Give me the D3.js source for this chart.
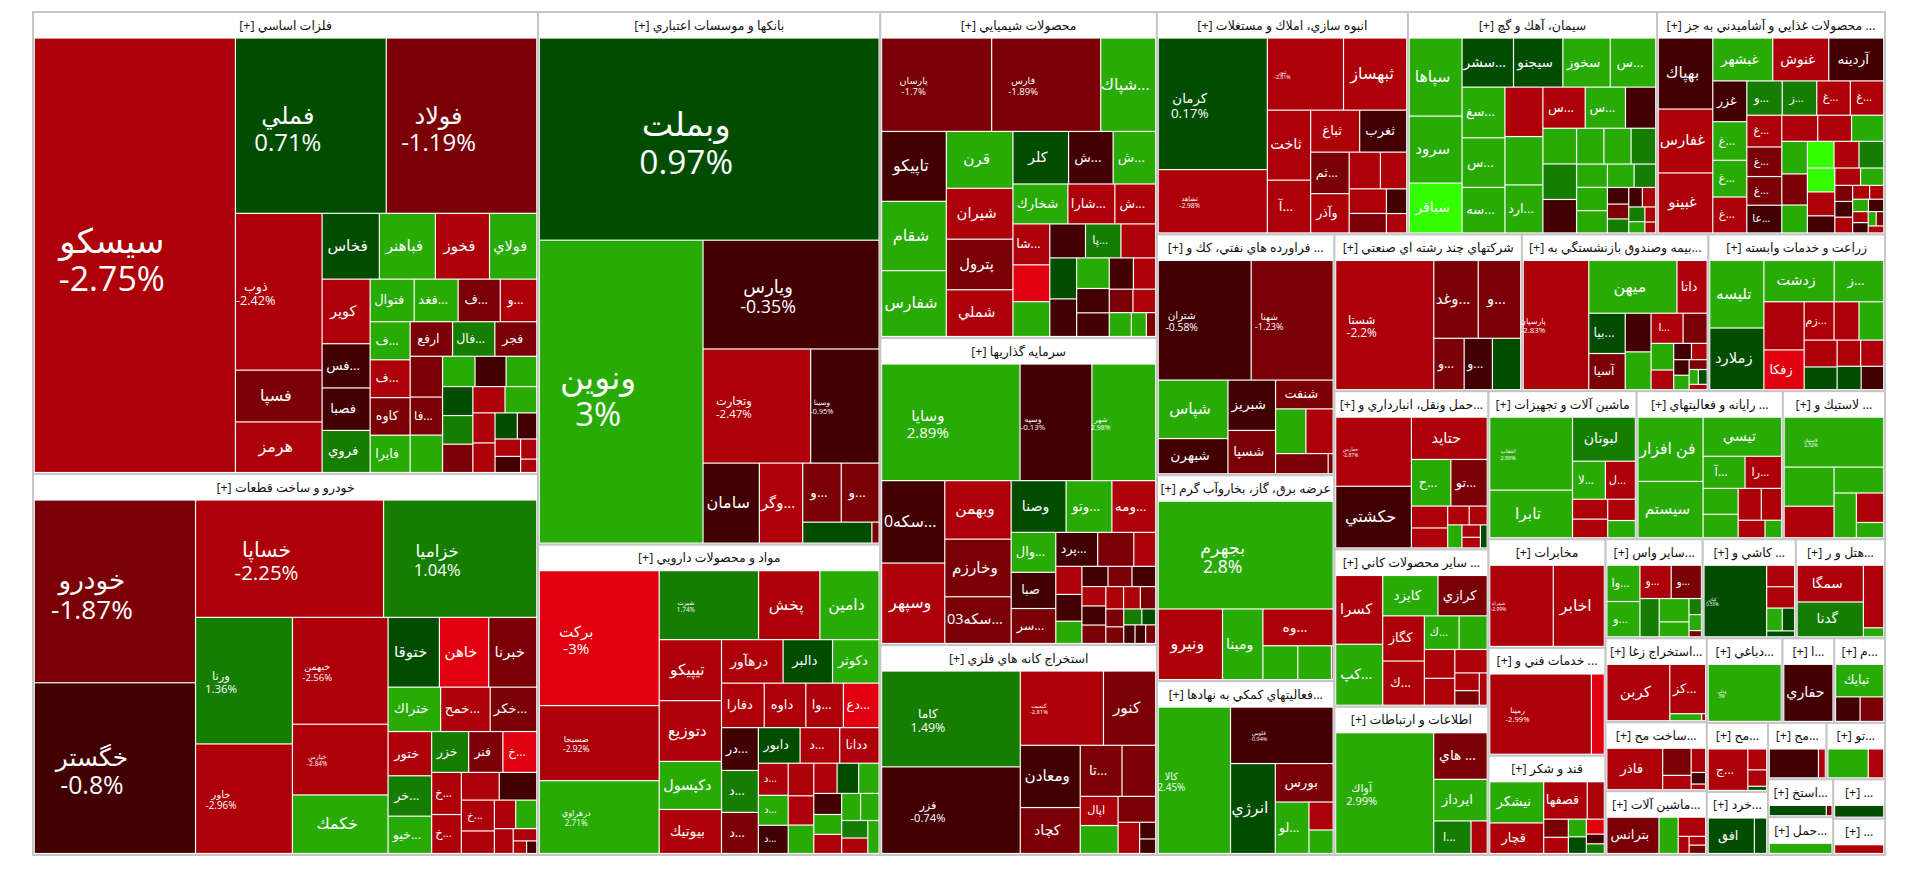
<!DOCTYPE html>
<html><head><meta charset="utf-8">
<script src="https://cdn.jsdelivr.net/npm/d3@7"></script>
<style>html,body{margin:0;background:#fff}svg{display:block}text{font-family:"Open Sans","DejaVu Sans",sans-serif}</style>
</head><body><svg id="map" width="1920" height="873"></svg>
<script>
const sectorNames=["فلزات اساسي [+]","خودرو و ساخت قطعات [+]","بانكها و موسسات اعتباري [+]","مواد و محصولات دارويي [+]","محصولات شيميايي [+]","سرمايه گذاريها [+]","استخراج كانه هاي فلزي [+]","انبوه سازي، املاك و مستغلات [+]","سيمان، آهك و گچ [+]","... محصولات غذايي و آشاميدني به جز [+]","... فراورده هاي نفتي، كك و [+]","عرضه برق، گاز، بخاروآب گرم [+]","...فعاليتهاي كمكي به نهادها [+]","شركتهاي چند رشته اي صنعتي [+]","...بيمه وصندوق بازنشستگي به [+]","زراعت و خدمات وابسته [+]","...حمل ونقل، انبارداري و [+]","... ساير محصولات كاني [+]","اطلاعات و ارتباطات [+]","ماشين آلات و تجهيزات [+]","... رايانه و فعاليتهاي [+]","... لاستيك و [+]","مخابرات [+]","... خدمات فني و [+]","قند و شكر [+]","...ساير واس [+]","... كاشي و [+]","...هتل و ر [+]","...استخراج زغا [+]","...دباغي [+]","...ا [+]","...م [+]","...ساخت مح [+]","...ماشين آلات [+]","...مح [+]","...خرد [+]","...مح [+]","...تو [+]","...استخ [+]","...حمل [+]","... [+]","... [+]"];
const sectorValues=[232848,192024,181944,106020,89976,84732,57960,55722,55278,50616,42657,36462,30798,29328,29172,27612,24332,24178,22792,21904,21608,15096,12700,12600,11600,9603,9207,8811,8484,6384,4368,4284,6969,6450,4209,3843,3304,3290,2470,2460,2028,1872];
const stockNames=[
["سيسكو","فملي","فولاد","ذوب","فسپا","هرمز","فخاس","فباهنر","فخوز","فولاي","كوير","...فس","فصبا","فروي","فتوال","...فغد","...ف","...و","...ف","...ف","كاوه","فايرا","ارفع","...فال","فجر","","...فا","","","","","","","","","","","","","","","","",""],
["خودرو","خگستر","خساپا","خزاميا","ورنا","خاور","خبهمن","خپارس","خكمك","ختوقا","خاهن","خبرنا","ختراك","...خمح","...خكر","ختور","...خر","...خيو","خزر","فنر","...خ","...خ","...خ","","","...خ","","","","","","",""],
["وبملت","ونوين","ويارس","وتجارت","وسينا","سامان","...وگر","...و","...و","",""],
["بركت","ضسبحا","درهراوي","شيرت","پخش","دامين","تيپيكو","دتوزيع","دكپسول","بيوتيك","درهآور","دالبر","دكوثر","دفارا","داوه","...وا","...دع","...در","...د","...د","دابور","...د","ددانا","...د","...د","...د","","","","","","","","","","","","","",""],
["پارسان","فارس","...شپاك","تاپيكو","شقام","شفارس","قرن","شيران","پترول","شملي","كلر","...ش","...ش","شخارك","...شارا","...ش","...شا","","","","...پا","","","","","","","","","","","","",""],
["وسايا","وسپه","شهر","...سكه0","وسپهر","وبهمن","وخارزم","...سكه03","وصنا","...وتو","...ومه","...وال","صبا","...سر","...پرد","","","","","","","","","","","","","","","","","","","","",""],
["كاما","فزر","كيميت","كنور","ومعادن","كچاد","...تا","","اپال","","","","",""],
["كرمان","ثشاهد","ثنور","ثبهساز","ثاخت","...آ","ثباغ","ثغرب","...ثم","وآذر","","","","","",""],
["سپاها","سرود","سباقر","...سشر","سيجنو","سخوز","...س","...سغ","...س","...سه","","","...ارد","...س","...س","","","","","","","","","","","","","","","","","","","","",""],
["بهپاك","غفارس","غبينو","غبشهر","غنوش","آردينه","غزر","...غ","...غ","...غ","...و","...ز","...غ","...غ","...غ","...غ","...غ","...عا","","","","","","","","","","","","","","","","","","","","","","","","","",""],
["شتران","شهنا","شپاس","شبهرن","شبريز","شسپا","شنفت","","","",""],
["بجهرم","ونيرو","ومينا","...وه","","",""],
["كالا","فلوس","انرژي","بورس","...لو","",""],
["شستا","...وغد","...و","...و","...و",""],
["پارسيان","ميهن","داتا","...بيا","آسيا","","","...ا","","","","","","","","","","",""],
["تليسه","زملارد","زدشت","...ز","","زفكا","...زم","","","","","","","",""],
["حفارس","حكشتي","حتايد","...ح","...تو","","","","","","","",""],
["كسرا","...كپ","كايزد","كرازي","كگاز","...ك","...ك","","","","","","",""],
["آواك","... هاي","ايرداز","...ا",""],
["انتقاب","تابرا","لبوتان","...لا","...ل","","","",""],
["فن افزار","سيستم","تيسي","...آ","...را","","","","","",""],
["لاستيك","","","","","",""],
["شمراه","اخابر"],
["رمينا",""],
["نيشكر","قچار","قصفها","","","","","","","",""],
["...وا","...و","...و","...و","","","","","",""],
["كيان","","","","",""],
["سمگا","گدنا","",""],
["كربن","...كز","",""],
["ودلي"],
["حفاري"],
["تبايك","",""],
["فاذر","","","","",""],
["بترانس","","","","",""],
["...ج","","",""],
["افق",""],
["",""],
["",""],
["",""],
[""],
[""],
[""]];
const stockValues=[
[86400,25950,25900,13250,4300,4200,3600,3520,3400,2960,2950,2000,1920,1900,1760,1755,1680,1450,1420,1410,1400,1390,1365,1360,1350,1225,1140,1120,900,860,850,800,790,780,770,760,600,590,520,450,390,360,280,180],
[28780,26870,21500,17480,11875,10260,9870,6490,5360,3400,3260,3180,2190,2060,1935,1800,1640,1510,1400,1290,1280,1150,1060,960,950,930,670,540,535,410,245,135,100],
[67300,48500,18600,11870,7500,4290,3280,2130,2090,1340,120],
[15680,8660,8400,6570,4020,3880,3600,3590,2820,2580,2520,2010,1890,1770,1720,1550,1470,1460,1430,1400,1370,1300,1290,870,810,760,750,670,650,630,580,550,520,490,470,450,440,400,350,320],
[9720,9630,4800,4220,4180,3970,3520,3140,3120,2880,2700,2150,2050,2010,1710,1480,1365,1225,1155,1090,1080,1060,985,900,890,700,680,665,610,480,460,455,300,180],
[15500,7980,7070,4920,4800,3650,3590,2900,2650,2200,2100,1640,1480,1430,1300,1115,660,650,620,510,460,420,415,400,395,380,340,320,290,270,250,240,180,170,160,150],
[12650,11420,5820,3620,3480,2550,1960,1570,990,950,870,590,220,190],
[13900,6630,5250,4340,2860,2140,1920,1840,1480,1400,1050,875,830,650,440,340],
[3880,3320,2450,2350,2250,2160,2070,2010,1970,1800,1730,1690,1680,1600,1520,1130,1090,1085,1020,880,875,790,640,635,610,550,440,300,265,250,220,215,195,145,130,90],
[3590,3220,3020,2360,2200,2160,1250,1180,1120,1095,1090,1060,1030,1025,990,920,890,860,830,780,740,735,700,625,620,580,575,570,570,400,380,340,235,230,230,190,155,155,150,135,125,85,80,80],
[10760,9470,3880,2310,2250,1930,1540,1250,1120,970,76],
[18400,4350,2700,2440,1090,1050,40],
[10150,5500,3800,2070,1600,600,500],
[12065,3225,3075,1420,1320,1318],
[8000,4350,1450,1330,1190,890,870,860,640,525,380,240,210,195,180,140,105,100,70],
[3360,3060,2650,1850,1750,1435,1015,840,835,775,650,530,520,480,450],
[5000,4450,3030,1710,1575,715,650,350,290,280,190,160,125],
[3000,2650,2050,1820,1720,1680,1050,840,780,725,670,370,300,210],
[11425,2340,2080,1115,465],
[5540,3590,2500,1100,1000,600,560,500,400],
[4800,4200,3500,1500,1300,1000,900,800,700,500,300],
[5200,2000,1600,1300,1000,800,400],
[5000,4000],
[7800,940],
[2080,1530,1510,570,390,345,270,255,225,140,140],
[1080,1050,930,900,650,610,380,160,160,55],
[4320,540,535,310,240,135],
[2300,2180,1180,150],
[3190,1560,175,15],
[3940],
[2590],
[1410,520,500],
[2030,650,330,280,125,55],
[1640,580,430,140,105,100],
[1480,330,255,55],
[1500,375],
[1250,155],
[1000,365],
[570,45],
[500],
[560],
[280]];
const stockChanges=[
[-2.75,0.71,-1.19,-2.42,-1.5,-2.5,0.5,2.5,-2.5,2.5,-2.5,-0.5,-0.5,1.5,2.5,2.5,-1.5,-2.5,2.5,-2.5,-1.5,2.5,-1.5,1.5,-1.5,-1.5,-1.5,2.5,2.5,-0.5,2.5,0.5,1.5,-1.5,-2.5,2.5,-2.5,-2.5,0.5,-0.5,-2.5,-0.5,-2.5,-2.5],
[-1.87,-0.8,-2.25,1.04,1.36,-2.96,-2.56,-2.84,2.5,0.5,-3.5,-1.5,2.5,-2.5,-1.5,-2.5,1.5,2.5,1.5,-1.5,-3.5,-2.5,-2.5,-2.5,-0.5,-2.5,-2.5,-2.5,2.5,-2.5,-2.5,-2.5,-0.5],
[0.97,3,-0.35,-2.47,-0.95,-0.5,-2.5,-1.5,-1.5,0.5,-1.5],
[-3,-2.92,2.71,1.74,-2.5,2.5,-2.5,-2.5,2.5,-2.5,-2.5,0.5,2.5,-2.5,-2.5,-2.5,-3.5,-0.5,1.5,-1.5,0.5,-2.5,-2.5,-2.5,2.5,-0.5,-2.5,-2.5,2.5,-2.5,0.5,2.5,-0.5,2.5,-2.5,2.5,2.5,1.5,-2.5,2.5],
[-1.7,-1.89,2.5,-0.5,2.5,2.5,2.5,-2.5,-1.5,-2.5,0.5,-0.5,2.5,2.5,-2.5,-2.5,-2.5,-3.5,2.5,-0.5,1.5,-2.5,0.5,-0.5,2.5,-0.5,-0.5,-0.5,-2.5,-1.5,-2.5,2.5,2.5,-1.5],
[2.89,-0.13,2.98,-0.5,-2.5,-2.5,-1.5,-1.5,0.5,2.5,-2.5,2.5,-0.5,-1.5,-0.5,-1.5,-2.5,-2.5,-0.5,2.5,-0.5,-1.5,-0.5,-2.5,-0.5,-1.5,-2.5,-2.5,-1.5,-1.5,-1.5,1.5,0.5,-0.5,-0.5,-1.5],
[1.49,-0.74,-2.81,-1.5,-0.5,-1.5,-1.5,-1.5,-2.5,2.5,-1.5,-2.5,-0.5,-0.5],
[0.17,-2.98,-2.81,-2.5,-2.5,-2.5,-2.5,-0.5,-1.5,-2.5,-2.5,-2.5,-2.5,-1.5,-0.5,-2.5],
[2.5,2.5,4.5,0.5,0.5,2.5,2.5,2.5,2.5,2.5,-2.5,2.5,2.5,-2.5,2.5,-0.5,2.5,1.5,-0.5,2.5,2.5,1.5,2.5,2.5,2.5,2.5,1.5,-0.5,-1.5,1.5,-0.5,-2.5,1.5,2.5,-2.5,-2.5],
[-0.5,-2.5,-2.5,2.5,-2.5,-0.5,-0.5,2.5,2.5,-2.5,1.5,1.5,-2.5,-2.5,-2.5,-1.5,-1.5,-0.5,-2.5,-2.5,2.5,2.5,-1.5,2.5,4.5,-2.5,1.5,4.5,-2.5,-0.5,-2.5,2.5,-1.5,-0.5,-2.5,-2.5,-2.5,2.5,-0.5,-2.5,-0.5,2.5,-1.5,-2.5],
[-0.58,-1.23,2.5,-0.5,-0.5,-1.5,-1.5,2.5,-2.5,-1.5,-1.5],
[2.8,-2.5,2.5,-2.5,2.5,2.5,-2.5],
[2.45,-0.94,0.5,-1.5,2.5,-2.5,2.5],
[-2.2,-1.5,-1.5,-1.5,-0.5,0.5],
[-2.83,2.5,-2.5,0.5,-1.5,-0.5,2.5,-2.5,-1.5,2.5,-2.5,-0.5,-2.5,-0.5,2.5,-1.5,2.5,0.5,-2.5],
[2.5,0.5,2.5,2.5,-2.5,-3.5,-2.5,-2.5,2.5,-2.5,0.5,-2.5,-2.5,0.5,-0.5],
[-2.87,-0.5,-2.5,2.5,-1.5,-2.5,-2.5,-2.5,-2.5,2.5,-2.5,-2.5,0.5],
[-2.5,2.5,2.5,-1.5,-2.5,-2.5,2.5,2.5,-2.5,-2.5,-2.5,-2.5,-1.5,-2.5],
[2.99,-1.5,2.5,1.5,-2.5],
[2.98,2.5,1.5,2.5,-2.5,-2.5,-2.5,-2.5,2.5],
[2.5,2.5,2.5,2.5,-2.5,2.5,2.5,-2.5,-2.5,-2.5,2.5],
[2.52,2.5,-2.5,2.5,2.5,-2.5,2.5],
[-2.99,-2.5],
[-2.99,-3.5],
[2.5,-2.5,-2.5,-2.5,-1.5,-2.5,2.5,0.5,-3.5,-0.5,1.5],
[2.5,2.5,-2.5,-1.5,1.5,2.5,2.5,1.5,2.5,-1.5],
[0.53,-2.5,-2.5,2.5,0.5,0.5],
[-2.5,1.5,-2.5,2.5],
[-2.5,-2.5,2.5,-2.5],
[3],
[-0.5],
[2.5,-0.5,-1.5],
[-2.5,-1.5,-2.5,-2.5,-0.5,-2.5],
[-1.5,2.5,-2.5,-2.5,-2.5,-1.5],
[-2.5,-2.5,-2.5,0.5],
[0.5,0.5],
[-0.5,-2.5],
[2.5,-2.5],
[0.5,-1.5],
[2.5],
[0.5],
[-2.5]];
const printedChange=["سيسكو","فملي","فولاد","ذوب","خودرو","خگستر","خساپا","خزاميا","ورنا","خاور","خبهمن","خپارس","وبملت","ونوين","ويارس","وتجارت","وسينا","بركت","ضسبحا","درهراوي","شيرت","پارسان","فارس","وسايا","وسپه","شهر","كاما","فزر","كيميت","كرمان","ثشاهد","ثنور","شتران","شهنا","بجهرم","كالا","فلوس","شستا","پارسيان","حفارس","آواك","انتقاب","لاستيك","شمراه","رمينا","كيان","ودلي"];
const colorSteps=["#e0000f","#ad0009","#7a0006","#420002","#004d00","#157d00","#28ab05","#33ff00"];

const color=d3.scaleThreshold().domain([-2.999,-2,-1,0,1,2,3.001]).range(colorSteps);
const mapX=33,mapY=12,mapW=1852,mapH=843,headerH=26;
const tile=d3.treemapSquarify.ratio(1);
const withGap=v=>(Math.sqrt(v)+1.3)**2; // values were read from the visible cell, without its white gap
const pairFont=d3.scaleLinear().domain([4300,5300,8000,21500,29000,50000,90000]).range([4.5,5,7.5,20,26,33,34]).clamp(true);
const oneFont=d3.scaleLinear().domain([600,1400,4400]).range([9,12.5,16]).clamp(true);
const svg=d3.select("#map");
const sectorRoot=d3.hierarchy({children:sectorNames.map((n,i)=>({name:n,value:sectorValues[i],idx:i}))}).sum(d=>d.value||0).sort((a,b)=>b.value-a.value);
d3.treemap().size([mapW,mapH]).tile(tile)(sectorRoot);
const sectors=svg.selectAll("g.sector").data(sectorRoot.children).join("g").attr("class","sector")
 .attr("transform",d=>`translate(${mapX+d.x0},${mapY+d.y0})`);
sectors.append("rect").attr("width",d=>d.x1-d.x0).attr("height",d=>d.y1-d.y0).attr("fill","#fff").attr("stroke","#c6c6c6").attr("stroke-width",2);
sectors.append("text").attr("x",d=>(d.x1-d.x0)/2).attr("y",17.5).attr("text-anchor","middle").attr("direction","rtl")
 .attr("font-size",12.5).attr("fill","#111").text(d=>d.data.name);
sectors.each(function(s){
 const i=s.data.idx,w=s.x1-s.x0,h=s.y1-s.y0;
 const root=d3.hierarchy({children:stockValues[i].map((v,k)=>({name:stockNames[i][k]||"",value:withGap(v),change:stockChanges[i][k]}))}).sum(d=>d.value||0).sort((a,b)=>b.value-a.value);
 d3.treemap().size([w-2.5,h-headerH-1.5]).tile(tile)(root);
 const cells=d3.select(this).append("g").attr("transform",`translate(1.25,${headerH})`).selectAll("g").data(root.children).join("g").attr("transform",d=>`translate(${d.x0},${d.y0})`);
 cells.append("rect").attr("x",.6).attr("y",.6).attr("width",d=>Math.max(0,d.x1-d.x0-1.2)).attr("height",d=>Math.max(0,d.y1-d.y0-1.2)).attr("fill",d=>color(d.data.change));
 cells.filter(d=>d.data.name).each(function(d){
  const g=d3.select(this),cw=d.x1-d.x0,ch=d.y1-d.y0,area=cw*ch;
  if(printedChange.includes(d.data.name)){
   const f=pairFont(area),cx=cw/2-23,cy=ch/2;
   g.append("text").attr("x",cx).attr("y",cy-.08*f).attr("text-anchor","middle").attr("direction","rtl").attr("font-size",f).attr("fill","#fff").text(d.data.name);
   g.append("text").attr("x",cx).attr("y",cy+1.04*f).attr("text-anchor","middle").attr("direction","ltr").attr("font-size",f).attr("fill","#fff").text(d.data.change+"%");
  }else{
   const f=oneFont(area);
   g.append("text").attr("x",cw/2-3).attr("y",ch/2+.3*f).attr("text-anchor","middle").attr("direction","rtl").attr("font-size",f).attr("fill","#fff").text(d.data.name);
  }
 });
});
</script></body></html>
